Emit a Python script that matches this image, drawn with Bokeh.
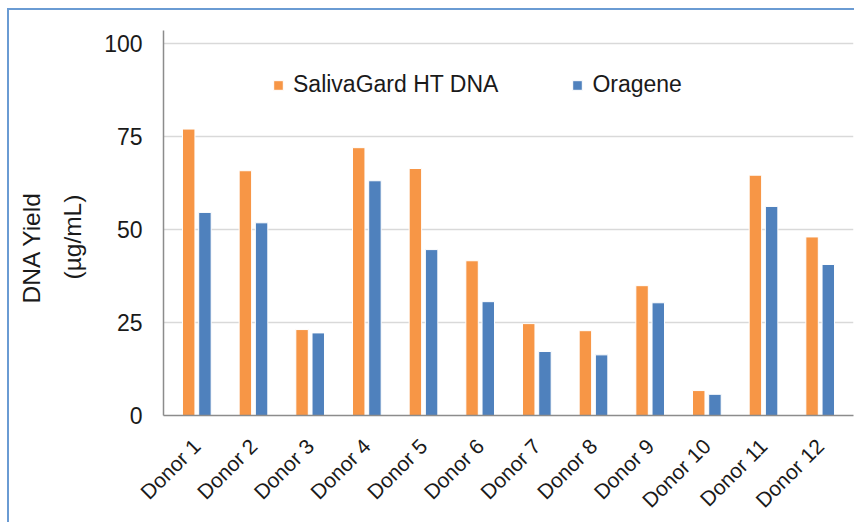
import math
from bokeh.plotting import figure
from bokeh.models import (FactorRange, Range1d, Legend, LegendItem,
                          FixedTicker, ColumnDataSource, Title)
from bokeh.transform import dodge
from bokeh.embed import file_html
from bokeh.resources import INLINE

donors = ["Donor 1", "Donor 2", "Donor 3", "Donor 4", "Donor 5", "Donor 6",
          "Donor 7", "Donor 8", "Donor 9", "Donor 10", "Donor 11", "Donor 12"]
salivagard = [77.0, 65.8, 23.1, 72.0, 66.4, 41.6, 24.7, 22.8, 34.9, 6.7, 64.6, 48.0]
oragene = [54.6, 51.8, 22.2, 63.1, 44.6, 30.6, 17.2, 16.3, 30.3, 5.7, 56.2, 40.6]
y_ticks = [0, 25, 50, 75, 100]

ORANGE = "#F79646"
BLUE = "#4F81BD"
FONT = "Liberation Sans"
TXT = "#1a1a1a"
AXIS = "#8C8C8C"
BORDER = "#6A9BD3"

src = ColumnDataSource(dict(donor=donors, sg=salivagard, og=oragene))

p = figure(
    x_range=FactorRange(factors=donors, range_padding=0.088,
                        range_padding_units="absolute"),
    y_range=Range1d(0, 103.5),
    width=847, height=514,
    output_backend="svg", toolbar_location=None,
    min_border_left=154, min_border_right=3,
    min_border_top=20, min_border_bottom=109,
)
p.styles = {"margin-left": "7px", "margin-top": "8px",
            "border-top": f"2px solid {BORDER}", "border-left": f"2px solid {BORDER}"}
p.outline_line_color = None
p.background_fill_color = "white"
p.border_fill_color = "white"

r1 = p.vbar(x=dodge("donor", -0.143, range=p.x_range), top="sg", width=0.22,
            source=src, fill_color=ORANGE, line_color="white", line_width=1)
r2 = p.vbar(x=dodge("donor", 0.143, range=p.x_range), top="og", width=0.22,
            source=src, fill_color=BLUE, line_color="white", line_width=1)

# axes
p.yaxis.ticker = FixedTicker(ticks=y_ticks)
p.yaxis.major_tick_line_color = None
p.yaxis.minor_tick_line_color = None
p.yaxis.axis_line_color = AXIS
p.yaxis.axis_line_width = 1.5
p.yaxis.major_label_text_font = FONT
p.yaxis.major_label_text_font_size = "23px"
p.yaxis.major_label_text_color = TXT
p.yaxis.major_label_standoff = 15

p.xaxis.major_label_orientation = math.pi / 4
p.xaxis.major_tick_line_color = None
p.xaxis.axis_line_color = AXIS
p.xaxis.axis_line_width = 1.5
p.xaxis.major_label_text_font = FONT
p.xaxis.major_label_text_font_size = "21px"
p.xaxis.major_label_text_color = TXT
p.xaxis.major_label_standoff = 21

p.xgrid.grid_line_color = None
p.ygrid.grid_line_color = "#D9D9D9"
p.ygrid.grid_line_width = 1.5

# y axis title (two lines), inner line first
p.add_layout(Title(text="(µg/mL)", align="left", offset=136, standoff=28,
                   vertical_align="top",
                   text_font=FONT, text_font_size="24.5px", text_color=TXT,
                   text_font_style="normal"), "left")
p.add_layout(Title(text="DNA Yield", align="left", offset=112, standoff=0,
                   text_font=FONT, text_font_size="24.5px", text_color=TXT,
                   text_font_style="normal"), "left")

legend = Legend(
    items=[LegendItem(label="SalivaGard HT DNA", renderers=[r1]),
           LegendItem(label="Oragene", renderers=[r2])],
    orientation="horizontal", location=(109, 317),
    padding=0, margin=0, spacing=73, label_standoff=9,
    glyph_width=12, glyph_height=12,
    border_line_color=None, background_fill_alpha=0,
    label_text_font=FONT, label_text_font_size="23px", label_text_color=TXT,
)
p.add_layout(legend)

open("out.html", "w").write(file_html(p, INLINE))
